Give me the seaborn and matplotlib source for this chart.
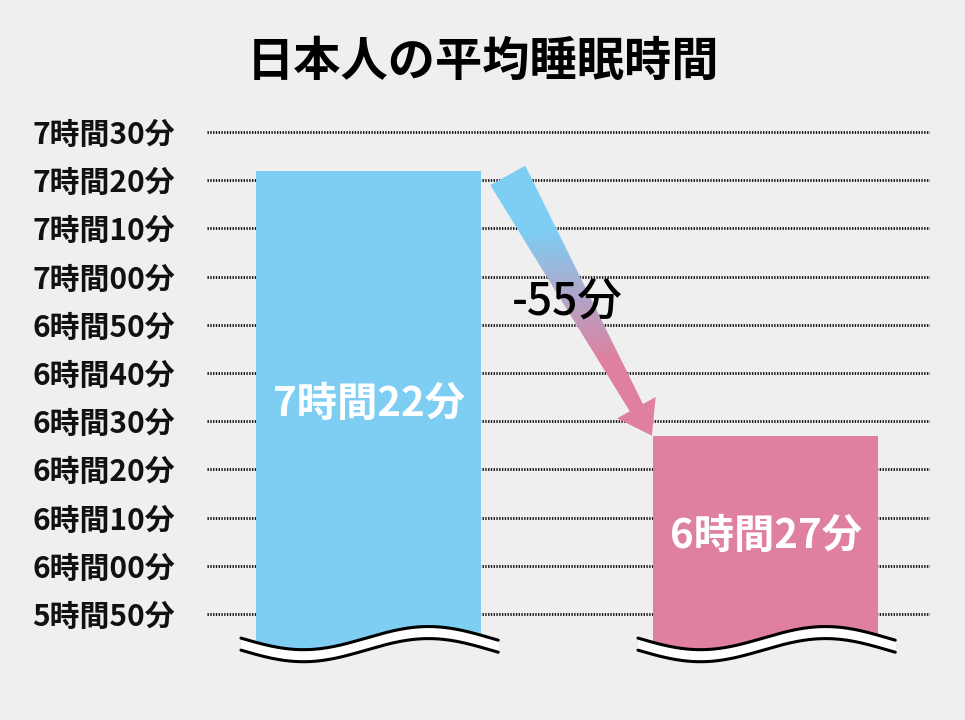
import numpy as np
import matplotlib
matplotlib.use("Agg")
import matplotlib.pyplot as plt
import seaborn as sns
from matplotlib.colors import LinearSegmentedColormap
from matplotlib.patches import Polygon

# data (minutes of sleep)
groups = ["以前", "現在"]
minutes = [442, 387]
bar_labels = ["7時間22分", "6時間27分"]
diff_label = "-55分"
tick_minutes = list(range(350, 451, 10))
title = "日本人の平均睡眠時間"

BG = "#efefef"
BLUE = "#7ecef4"
PINK = "#e0809f"

sns.set_theme(style="white")
plt.rcParams["font.family"] = ["Noto Sans CJK JP", "DejaVu Sans"]

fig = plt.figure(figsize=(9.65, 7.2), dpi=100, facecolor=BG)
ax = fig.add_axes([207 / 965, 0.0468, 723 / 965, 0.8033])
ax.set_facecolor(BG)

bar_w = 0.567
sns.barplot(x=groups, y=minutes, hue=groups, palette=[BLUE, PINK],
            width=bar_w, saturation=1, legend=False, ax=ax, zorder=2)
for p in ax.patches:
    p.set_edgecolor("none")

ylo, yhi = 335, 455
xlo, xhi = -0.407, 1.414
ax.set_ylim(ylo, yhi)
ax.set_xlim(xlo, xhi)

# dotted grid
ax.set_yticks(tick_minutes)
ax.set_yticklabels([f"{m // 60}時間{m % 60:02d}分" for m in tick_minutes],
                   fontsize=21.5, fontweight="bold", color="#111111")
ax.tick_params(axis="y", length=0, pad=23)
ax.set_xticks([])
ax.set_xlabel("")
ax.set_ylabel("")
for y in tick_minutes:
    ax.axhline(y, color="#111111", lw=2.0, ls=(0, (0.5, 0.5)), zorder=1)
for s in ax.spines.values():
    s.set_visible(False)

# wavy break at the bottom of each bar
for i in range(len(minutes)):
    x0 = i - bar_w / 2 - 0.038
    x1 = i + bar_w / 2 + 0.043
    xs = np.linspace(x0, x1, 200)
    top = 345.0 - 2.4 * np.sin(2 * np.pi * (xs - x0) / 0.63)
    low = top - 2.5
    ax.fill_between(xs, low, top, color="white", lw=0, zorder=3)
    ax.fill_between(xs, ylo, low, color=BG, lw=0, zorder=3)
    ax.plot(xs, top, color="black", lw=2.2, zorder=4)
    ax.plot(xs, low, color="black", lw=2.2, zorder=4)

# value labels inside bars
for i, (m, lab) in enumerate(zip(minutes, bar_labels)):
    ax.text(i, (m + 345) / 2, lab, ha="center", va="center", color="white",
            fontsize=29, fontweight="bold", zorder=5)

# gradient arrow between the bars
tail = np.array([bar_w / 2 + 0.067, minutes[0] - 1])
tip = np.array([1 - bar_w / 2 - 0.003, minutes[1]])
to_px = ax.transData
from_px = ax.transData.inverted()
t_px = to_px.transform(tail)
h_px = to_px.transform(tip)
u = (h_px - t_px) / np.linalg.norm(h_px - t_px)
n = np.array([-u[1], u[0]])
base = h_px - u * 32
pts_px = [t_px + n * 20, base + n * 7.5, base + n * 22, h_px,
          base - n * 22, base - n * 7.5, t_px - n * 20]
pts = from_px.transform(np.array(pts_px))
poly = Polygon(pts, closed=True, facecolor="none", edgecolor="none")
ax.add_patch(poly)

cmap = LinearSegmentedColormap.from_list("bp", [BLUE, PINK])
gx0, gx1 = pts[:, 0].min(), pts[:, 0].max()
gy0, gy1 = pts[:, 1].min(), pts[:, 1].max()
yy = np.linspace(gy1, gy0, 300)
grad = np.clip((429.7 - yy) / (429.7 - 402.7), 0, 1)[:, None] * np.ones((1, 10))
im = ax.imshow(grad, cmap=cmap, vmin=0, vmax=1, extent=[gx0, gx1, gy0, gy1],
               aspect="auto", zorder=3, interpolation="bilinear")
im.set_clip_path(poly)
ax.set_xlim(xlo, xhi)
ax.set_ylim(ylo, yhi)

ax.text(0.5, (minutes[0] + minutes[1]) / 2, diff_label, ha="center", va="center",
        fontsize=32, fontweight="medium", color="black", zorder=6)

fig.text(0.5, 0.914, title, ha="center", va="center", fontsize=34,
         fontweight="bold", color="black")

fig.savefig("out.png", dpi=100, facecolor=BG)
